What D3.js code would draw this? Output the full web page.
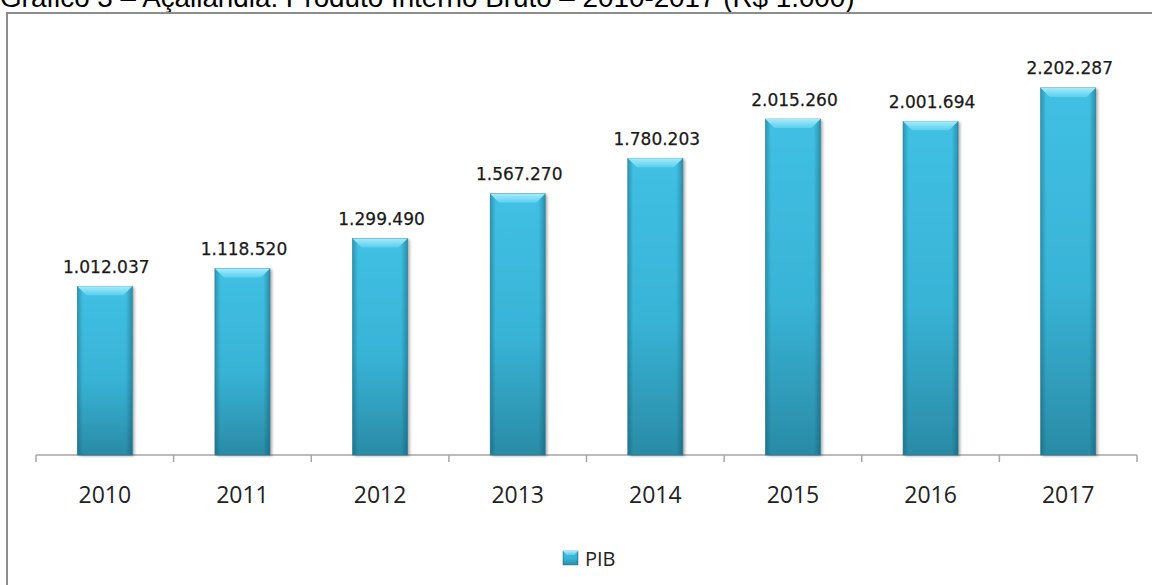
<!DOCTYPE html>
<html>
<head>
<meta charset="utf-8">
<script src="https://cdn.jsdelivr.net/npm/d3@7"></script>
<style>
  html, body { margin: 0; padding: 0; background: #fff; }
  svg { display: block; }
</style>
</head>
<body>
<svg id="chart" width="1152" height="585"></svg>
<script>
// PIB de Açailândia, 2010-2017 (R$ 1.000)
const years = ["2010", "2011", "2012", "2013", "2014", "2015", "2016", "2017"];
const pib = [1012037, 1118520, 1299490, 1567270, 1780203, 2015260, 2001694, 2202287];
const seriesName = "PIB";
const titleText = "Gráfico 3 – Açailândia: Produto Interno Bruto – 2010-2017 (R$ 1.000)";

const fmt = v => d3.format(",")(v).replace(/,/g, ".");

const svg = d3.select("#chart");
const W = 1152, H = 585;

// gradients for the bevelled bars
const defs = svg.append("defs");
const gV = defs.append("linearGradient").attr("id", "barV").attr("x1", 0).attr("y1", 0).attr("x2", 0).attr("y2", 1);
gV.append("stop").attr("offset", "0%").attr("stop-color", "#40c0e3");
gV.append("stop").attr("offset", "55%").attr("stop-color", "#38b3d6");
gV.append("stop").attr("offset", "100%").attr("stop-color", "#2a8ba6");

const gH = defs.append("linearGradient").attr("id", "barH").attr("x1", 0).attr("y1", 0).attr("x2", 1).attr("y2", 0);
gH.append("stop").attr("offset", "0%").attr("stop-color", "#0b4656").attr("stop-opacity", 0.35);
gH.append("stop").attr("offset", "10%").attr("stop-color", "#0b4656").attr("stop-opacity", 0.0);
gH.append("stop").attr("offset", "88%").attr("stop-color", "#0b4656").attr("stop-opacity", 0.0);
gH.append("stop").attr("offset", "100%").attr("stop-color", "#0b4656").attr("stop-opacity", 0.4);

const gTop = defs.append("linearGradient").attr("id", "bevel").attr("x1", 0).attr("y1", 0).attr("x2", 0).attr("y2", 1);
gTop.append("stop").attr("offset", "0%").attr("stop-color", "#a6ebfa");
gTop.append("stop").attr("offset", "100%").attr("stop-color", "#5acff0");

const shadow = defs.append("filter").attr("id", "shadow").attr("x", "-20%").attr("y", "-10%").attr("width", "150%").attr("height", "130%");
shadow.append("feGaussianBlur").attr("in", "SourceAlpha").attr("stdDeviation", 1.5).attr("result", "b");
shadow.append("feOffset").attr("in", "b").attr("dx", 1.5).attr("dy", 1).attr("result", "o");
shadow.append("feComponentTransfer").attr("in", "o").attr("result", "s")
  .append("feFuncA").attr("type", "linear").attr("slope", 0.35);
const merge = shadow.append("feMerge");
merge.append("feMergeNode").attr("in", "s");
merge.append("feMergeNode").attr("in", "SourceGraphic");

// title (runs off the top edge of the page)
svg.append("text")
  .attr("x", 0).attr("y", 7)
  .attr("font-family", "'Liberation Sans', Arial, sans-serif")
  .attr("font-size", 27.8)
  .attr("fill", "#000")
  .text(titleText);

// chart frame
svg.append("rect")
  .attr("x", 7).attr("y", 13)
  .attr("width", W + 20).attr("height", H + 20)
  .attr("fill", "none")
  .attr("stroke", "#8c8c8c")
  .attr("stroke-width", 2);

// scales
const x = d3.scaleBand().domain(years).range([36, 1137]).paddingInner(0.6).paddingOuter(0.3);
const y = d3.scaleLinear().domain([0, 2500000]).range([455, 38.3]);

// category axis with ticks at band boundaries
const axisG = svg.append("g");
const boundaries = d3.range(years.length + 1).map(i => 36 + i * (1137 - 36) / years.length);
axisG.append("line")
  .attr("x1", 36).attr("x2", 1137).attr("y1", 455).attr("y2", 455)
  .attr("stroke", "#a6a6a6").attr("stroke-width", 1.5);
axisG.selectAll("line.tick").data(boundaries).join("line")
  .attr("class", "tick")
  .attr("x1", d => d).attr("x2", d => d)
  .attr("y1", 455).attr("y2", 462)
  .attr("stroke", "#a6a6a6").attr("stroke-width", 1.5);

axisG.selectAll("text.cat").data(years).join("text")
  .attr("class", "cat")
  .attr("x", d => x(d) + x.bandwidth() / 2)
  .attr("y", 503)
  .attr("text-anchor", "middle")
  .attr("font-family", "'Open Sans', sans-serif")
  .attr("font-size", 23)
  .attr("fill", "#222")
  .text(d => d);

// bars
const bars = svg.append("g").selectAll("g.bar")
  .data(years.map((yr, i) => ({ yr, v: pib[i] })))
  .join("g").attr("class", "bar");

bars.append("rect")
  .attr("x", d => x(d.yr))
  .attr("y", d => y(d.v))
  .attr("width", x.bandwidth())
  .attr("height", d => y(0) - y(d.v))
  .attr("fill", "url(#barV)")
  .attr("filter", "url(#shadow)");

bars.append("rect")
  .attr("x", d => x(d.yr))
  .attr("y", d => y(d.v))
  .attr("width", x.bandwidth())
  .attr("height", d => y(0) - y(d.v))
  .attr("fill", "url(#barH)")
  .attr("stroke", "#2a7d93")
  .attr("stroke-width", 0.6);

const bev = 9;
bars.append("path")
  .attr("d", d => {
    const l = x(d.yr), r = l + x.bandwidth(), t = y(d.v);
    return `M${l},${t}L${r},${t}L${r - bev},${t + bev}L${l + bev},${t + bev}Z`;
  })
  .attr("fill", "url(#bevel)");

// value labels
bars.append("text")
  .attr("x", d => x(d.yr) + x.bandwidth() / 2 + 1.5)
  .attr("y", d => y(d.v) - 13.5)
  .attr("text-anchor", "middle")
  .attr("font-family", "'DejaVu Sans', sans-serif")
  .attr("font-size", 17)
  .attr("fill", "#1a1a1a")
  .attr("stroke", "#1a1a1a")
  .attr("stroke-width", 0.25)
  .text(d => fmt(d.v));

// legend
const lg = svg.append("g").attr("transform", "translate(563,551)");
lg.append("rect").attr("width", 15).attr("height", 14).attr("fill", "url(#barV)");
lg.append("rect").attr("width", 15).attr("height", 14).attr("fill", "url(#barH)").attr("stroke", "#2a7d93").attr("stroke-width", 0.5);
lg.append("path").attr("d", "M0,0L15,0L11,4L4,4Z").attr("fill", "url(#bevel)");
lg.append("text")
  .attr("x", 22).attr("y", 15)
  .attr("font-family", "'Open Sans', sans-serif")
  .attr("font-size", 20)
  .attr("fill", "#222")
  .text(seriesName);
</script>
</body>
</html>
